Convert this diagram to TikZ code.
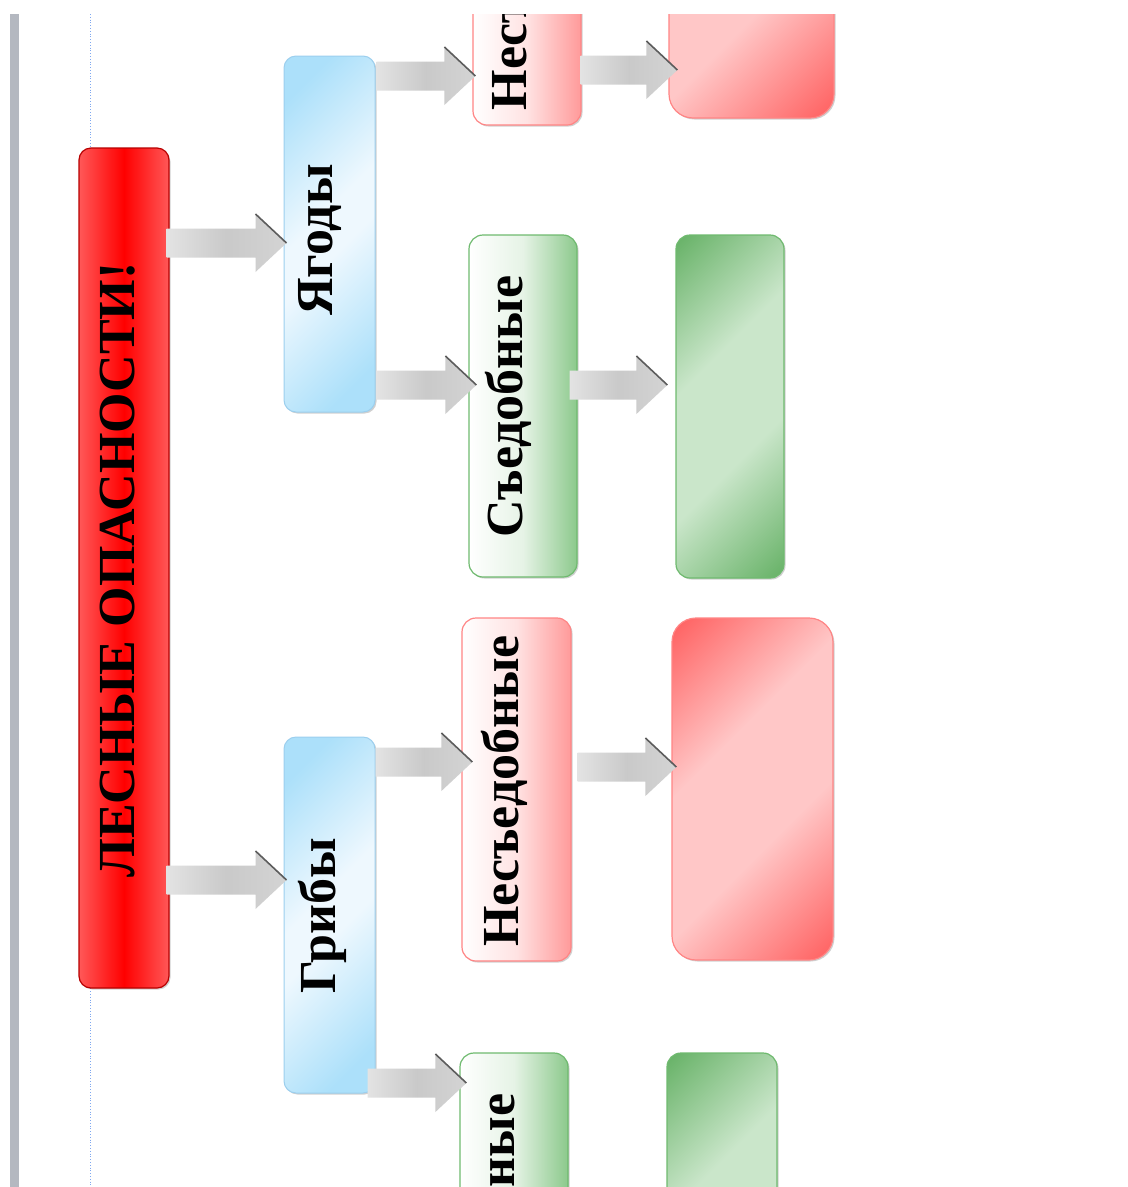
\documentclass[tikz,border=0pt]{standalone}
\usepackage{fontspec}
\setmainfont{Liberation Serif}
\usetikzlibrary{calc,shadows}
\definecolor{barGray}{HTML}{B4B8C0}
\definecolor{dotBlue}{HTML}{7FA8F0}
\definecolor{mainEdge}{HTML}{FF5858}
\definecolor{mainBorder}{HTML}{B80000}
\definecolor{bluePale}{HTML}{ACE0FA}
\definecolor{blueWhite}{HTML}{EEF8FE}
\definecolor{blueBorder}{HTML}{9CCFEE}
\definecolor{grnSide}{HTML}{8CC98C}
\definecolor{grnBorder}{HTML}{6FBA6F}
\definecolor{grnDark}{HTML}{6BB46B}
\definecolor{grnLight}{HTML}{CAE6CA}
\definecolor{pinkSide}{HTML}{FF9A9A}
\definecolor{pinkBorder}{HTML}{FF8585}
\definecolor{redDark}{HTML}{FF6464}
\definecolor{redLight}{HTML}{FFC7C7}
\definecolor{arrEdge}{HTML}{5C5C5C}
\pgfdeclareverticalshading{leafgrnsh}{100bp}{color(0bp)=(grnDark); color(16bp)=(grnDark); color(40bp)=(grnLight); color(60bp)=(grnLight); color(84bp)=(grnDark); color(100bp)=(grnDark)}
\pgfdeclareverticalshading{leafredsh}{100bp}{color(0bp)=(redDark); color(16bp)=(redDark); color(40bp)=(redLight); color(60bp)=(redLight); color(84bp)=(redDark); color(100bp)=(redDark)}
\pgfdeclareverticalshading{bluesh}{100bp}{color(0bp)=(bluePale); color(22bp)=(bluePale); color(46bp)=(blueWhite); color(54bp)=(blueWhite); color(78bp)=(bluePale); color(100bp)=(bluePale)}
\tikzset{
  boxshadow/.style={drop shadow={shadow xshift=1.5pt, shadow yshift=-1.5pt, opacity=0.3, fill=black!60}},
  mainbox/.style={draw=mainBorder, line width=1.2pt, rounded corners=12pt, boxshadow,
    left color=mainEdge, right color=mainEdge, middle color=red, inner sep=0pt},
  bluebox/.style={draw=blueBorder, line width=1pt, rounded corners=12pt, boxshadow,
    shade, shading=bluesh, shading angle=45, inner sep=0pt},
  grnbox/.style={draw=grnBorder, line width=1.2pt, rounded corners=14pt, boxshadow,
    left color=white, right color=grnSide, middle color=grnSide!22, inner sep=0pt},
  pinkbox/.style={draw=pinkBorder, line width=1.2pt, rounded corners=14pt, boxshadow,
    left color=white, right color=pinkSide, middle color=pinkSide!28, inner sep=0pt},
  grnleaf/.style={draw=grnBorder, line width=1.2pt, rounded corners=14pt, boxshadow,
    shade, shading=leafgrnsh, shading angle=45, inner sep=0pt},
  redleaf/.style={draw=pinkBorder, line width=1.2pt, rounded corners=24pt, boxshadow,
    shade, shading=leafredsh, shading angle=45, inner sep=0pt},
  lbl/.style={rotate=90, anchor=base, inner sep=0pt, font=\fontsize{52}{60}\selectfont\bfseries},
  arrowshade/.style={left color=gray!22, right color=gray!34, middle color=gray!42},
  arrowedge/.style={draw=arrEdge, line width=1.6pt},
}
% #1 source node, #2 target node, #3 tail x shift, #4/#5 tip offset from target west
\newcommand\blockarrow[5]{%
  \coordinate (tip) at ($(#2.west)+(#4,#5)$);
  \coordinate (tail) at ($(#1.east |- tip)+(#3,0)$);
  \shade[arrowshade] ($(tail)+(0,-14.5)$) -- ($(tip)+(-31,-14.5)$) -- ($(tip)+(-31,-29)$) -- (tip)
     -- ($(tip)+(-31,29)$) -- ($(tip)+(-31,14.5)$) -- ($(tail)+(0,14.5)$) -- cycle;
  \draw[arrowedge] ($(tip)+(-31,-29)$) -- (tip);
}
\begin{document}
\begin{tikzpicture}[x=1pt, y=-1pt]
\useasboundingbox (0,0) rectangle (1128,1187);
\fill[white] (0,0) rectangle (1128,1187);
\begin{scope}
\clip (0,14) rectangle (1128,1187);
\fill[barGray] (10,14) rectangle (19,1187);
\draw[dotBlue, dotted, line width=0.8pt] (90,14) -- (90,1187);
% boxes
\node[mainbox, minimum width=90, minimum height=840] (main) at (124,568) {};
\node[bluebox, minimum width=91, minimum height=356] (yag) at (329.5,234) {};
\node[bluebox, minimum width=91, minimum height=356] (gri) at (329.5,915) {};
\node[pinkbox, minimum width=108, minimum height=343] (topnes) at (527,-46.5) {};
\node[redleaf, minimum width=165, minimum height=342] (topred) at (751.5,-53) {};
\node[grnbox, minimum width=108, minimum height=342] (sed) at (523,406) {};
\node[grnleaf, minimum width=108, minimum height=343] (sedleaf) at (730,406.5) {};
\node[pinkbox, minimum width=109, minimum height=343] (nes) at (516.5,789.5) {};
\node[redleaf, minimum width=161, minimum height=342] (nesleaf) at (752.5,789) {};
\node[grnbox, minimum width=108, minimum height=343] (botsed) at (514,1224.5) {};
\node[grnleaf, minimum width=110, minimum height=343] (botleaf) at (722,1224.5) {};
% labels
\node[lbl] (tmain) at ($(main.west)+(56,2)$) {ЛЕСНЫЕ ОПАСНОСТИ!};
\node[lbl] (tyag) at ($(yag.west)+(49,6)$) {Ягоды};
\node[lbl] (tgri) at ($(gri.west)+(52,1)$) {Грибы};
\node[lbl] (ttopnes) at ($(topnes.west)+(54,1)$) {Несъедобные};
\node[lbl] (tsed) at ($(sed.west)+(54,0.5)$) {Съедобные};
\node[lbl] (tnes) at ($(nes.west)+(57,1.5)$) {Несъедобные};
\node[lbl] (tbotsed) at ($(botsed.west)+(55,0.5)$) {Съедобные};
% arrows
\blockarrow{main}{yag}{-3}{3}{9}
\blockarrow{main}{gri}{-3}{3}{-35}
\blockarrow{yag}{topnes}{1}{3}{122.5}
\blockarrow{yag}{sed}{1}{8}{-21}
\blockarrow{sed}{sedleaf}{-8}{-8}{-21.5}
\blockarrow{topnes}{topred}{-1}{9}{123}
\blockarrow{gri}{nes}{0}{11}{-27.5}
\blockarrow{nes}{nesleaf}{6}{5}{-22}
\blockarrow{gri}{botsed}{-8}{7}{-141.5}
\end{scope}
\end{tikzpicture}
\end{document}
